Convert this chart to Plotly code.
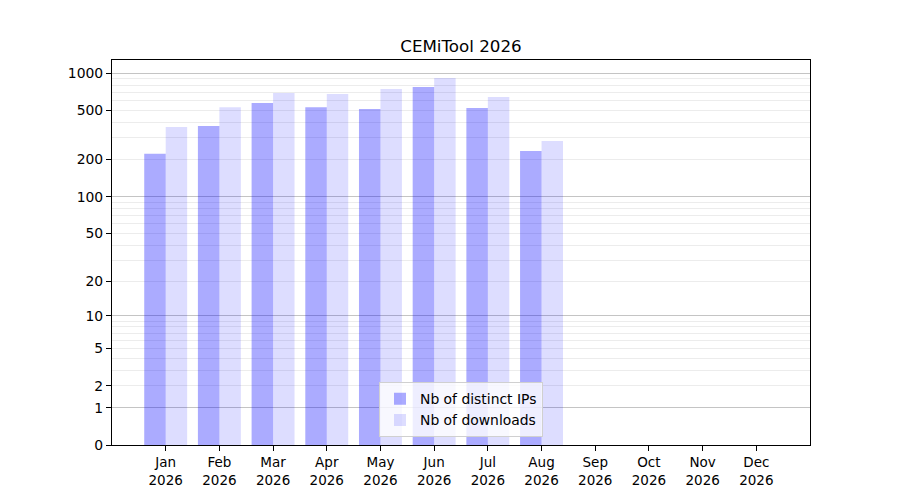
import numpy as np
from plotly import graph_objects as go

months = ['Jan', 'Feb', 'Mar', 'Apr', 'May', 'Jun',
          'Jul', 'Aug', 'Sep', 'Oct', 'Nov', 'Dec']
year = '2026'
distinct_ips = [223, 375, 575, 531, 514, 775, 524, 235]
downloads = [368, 531, 693, 680, 746, 916, 643, 283]
y_ticks = [0, 1, 2, 5, 10, 20, 50, 100, 200, 500, 1000]
decades = [1, 10, 100, 1000]


def fwd(v):
    # log10(1 + x) scale, like the original
    return np.log10(1 + np.asarray(v, dtype=float))


minor_vals = [m * d for d in [1, 10, 100] for m in range(2, 10)]
x_idx = list(range(len(distinct_ips)))
y_range = [0, 3.107]

fig = go.Figure()
fig.add_trace(go.Bar(
    x=x_idx, y=fwd(distinct_ips), customdata=distinct_ips,
    width=0.4, offset=-0.4, name='Nb of distinct IPs',
    marker=dict(color='rgba(0,0,255,0.33)', line=dict(width=0)),
    hovertemplate='%{customdata}<extra></extra>',
))
fig.add_trace(go.Bar(
    x=x_idx, y=fwd(downloads), customdata=downloads,
    width=0.4, offset=0, name='Nb of downloads',
    marker=dict(color='rgba(0,0,255,0.135)', line=dict(width=0)),
    hovertemplate='%{customdata}<extra></extra>',
    yaxis='y2',
))

font = 'DejaVu Sans'
fig.update_layout(
    width=900, height=500,
    margin=dict(l=104, r=98, t=52, b=63),
    paper_bgcolor='white', plot_bgcolor='white',
    barmode='overlay',
    font=dict(family=font, size=14, color='black'),
    title=dict(text='CEMiTool 2026', x=0.5, xref='paper', xanchor='center',
               y=1 - 38 / 500, yref='container', yanchor='middle',
               font=dict(family=font, size=16.7, color='black')),
    xaxis=dict(
        range=[-1, 12],
        tickvals=list(range(len(months))),
        ticktext=[f'{m}<br>{year}' for m in months],
        showgrid=False, zeroline=False,
        showline=True, linecolor='black', linewidth=1.1, mirror=True,
        ticks='outside', ticklen=5, tickwidth=1.1, tickcolor='black',
        tickfont=dict(family=font, size=13.5),
    ),
    yaxis=dict(
        range=y_range,
        tickvals=fwd(y_ticks), ticktext=[str(t) for t in y_ticks],
        showgrid=False, zeroline=False,
        showline=True, linecolor='black', linewidth=1.1, mirror=True,
        ticks='outside', ticklen=5, tickwidth=1.1, tickcolor='black',
        tickfont=dict(family=font, size=13.9),
        minor=dict(tickvals=fwd(minor_vals), showgrid=True,
                   gridcolor='#ececec', gridwidth=1, ticks=''),
    ),
    yaxis2=dict(
        range=y_range, overlaying='y', side='left',
        tickvals=fwd(decades), showticklabels=False, ticks='',
        showgrid=True, gridcolor='#c4c4c4', gridwidth=1,
        zeroline=False, showline=False,
    ),
    legend=dict(
        x=0.5, xanchor='center', y=0.02, yanchor='bottom',
        bgcolor='rgba(255,255,255,0.8)', bordercolor='#d0d0d0', borderwidth=1,
        font=dict(family=font, size=13.9), tracegroupgap=0,
    ),
    showlegend=True,
)

fig.write_html('out.html')
